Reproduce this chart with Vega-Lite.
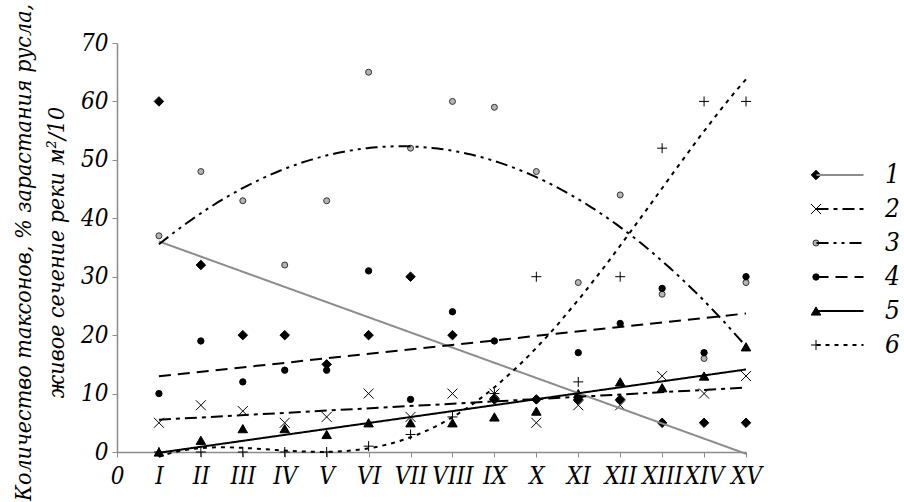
{
  "$schema": "https://vega.github.io/schema/vega-lite/v6.json",
  "width": 629,
  "height": 409,
  "autosize": {"type": "none"},
  "padding": {"left": 117, "top": 43, "right": 158, "bottom": 50},
  "background": "white",
  "config": {
    "view": {"stroke": null},
    "font": "DejaVu Serif Condensed",
    "axis": {
      "grid": false,
      "domainColor": "#8c8c8c",
      "domainWidth": 1.5,
      "tickColor": "#8c8c8c",
      "tickSize": 5,
      "tickWidth": 1,
      "labelFont": "DejaVu Serif Condensed",
      "labelFontStyle": "italic",
      "labelFontSize": 24,
      "labelColor": "black",
      "labelPadding": 4,
      "labelOverlap": false,
      "labelFlush": false,
      "labelBound": false
    }
  },
  "data": {
    "values": [
      {"period": 1, "series": "1", "value": 60}, {"period": 2, "series": "1", "value": 32}, {"period": 3, "series": "1", "value": 20}, {"period": 4, "series": "1", "value": 20}, {"period": 5, "series": "1", "value": 15}, {"period": 6, "series": "1", "value": 20}, {"period": 7, "series": "1", "value": 30}, {"period": 8, "series": "1", "value": 20}, {"period": 9, "series": "1", "value": 9}, {"period": 10, "series": "1", "value": 9}, {"period": 11, "series": "1", "value": 9}, {"period": 12, "series": "1", "value": 9}, {"period": 13, "series": "1", "value": 5}, {"period": 14, "series": "1", "value": 5}, {"period": 15, "series": "1", "value": 5},
      {"period": 1, "series": "2", "value": 5}, {"period": 2, "series": "2", "value": 8}, {"period": 3, "series": "2", "value": 7}, {"period": 4, "series": "2", "value": 5}, {"period": 5, "series": "2", "value": 6}, {"period": 6, "series": "2", "value": 10}, {"period": 7, "series": "2", "value": 6}, {"period": 8, "series": "2", "value": 10}, {"period": 9, "series": "2", "value": 10}, {"period": 10, "series": "2", "value": 5}, {"period": 11, "series": "2", "value": 8}, {"period": 12, "series": "2", "value": 8}, {"period": 13, "series": "2", "value": 13}, {"period": 14, "series": "2", "value": 10}, {"period": 15, "series": "2", "value": 13},
      {"period": 1, "series": "3", "value": 37}, {"period": 2, "series": "3", "value": 48}, {"period": 3, "series": "3", "value": 43}, {"period": 4, "series": "3", "value": 32}, {"period": 5, "series": "3", "value": 43}, {"period": 6, "series": "3", "value": 65}, {"period": 7, "series": "3", "value": 52}, {"period": 8, "series": "3", "value": 60}, {"period": 9, "series": "3", "value": 59}, {"period": 10, "series": "3", "value": 48}, {"period": 11, "series": "3", "value": 29}, {"period": 12, "series": "3", "value": 44}, {"period": 13, "series": "3", "value": 27}, {"period": 14, "series": "3", "value": 16}, {"period": 15, "series": "3", "value": 29},
      {"period": 1, "series": "4", "value": 10}, {"period": 2, "series": "4", "value": 19}, {"period": 3, "series": "4", "value": 12}, {"period": 4, "series": "4", "value": 14}, {"period": 5, "series": "4", "value": 14}, {"period": 6, "series": "4", "value": 31}, {"period": 7, "series": "4", "value": 9}, {"period": 8, "series": "4", "value": 24}, {"period": 9, "series": "4", "value": 19}, {"period": 10, "series": "4", "value": 9}, {"period": 11, "series": "4", "value": 17}, {"period": 12, "series": "4", "value": 22}, {"period": 13, "series": "4", "value": 28}, {"period": 14, "series": "4", "value": 17}, {"period": 15, "series": "4", "value": 30},
      {"period": 1, "series": "5", "value": 0}, {"period": 2, "series": "5", "value": 2}, {"period": 3, "series": "5", "value": 4}, {"period": 4, "series": "5", "value": 4}, {"period": 5, "series": "5", "value": 3}, {"period": 6, "series": "5", "value": 5}, {"period": 7, "series": "5", "value": 5}, {"period": 8, "series": "5", "value": 5}, {"period": 9, "series": "5", "value": 6}, {"period": 10, "series": "5", "value": 7}, {"period": 11, "series": "5", "value": 10}, {"period": 12, "series": "5", "value": 12}, {"period": 13, "series": "5", "value": 11}, {"period": 14, "series": "5", "value": 13}, {"period": 15, "series": "5", "value": 18},
      {"period": 1, "series": "6", "value": 0}, {"period": 2, "series": "6", "value": 0}, {"period": 3, "series": "6", "value": 0}, {"period": 4, "series": "6", "value": 0}, {"period": 5, "series": "6", "value": 0}, {"period": 6, "series": "6", "value": 1}, {"period": 7, "series": "6", "value": 3}, {"period": 8, "series": "6", "value": 6}, {"period": 9, "series": "6", "value": 10}, {"period": 10, "series": "6", "value": 30}, {"period": 11, "series": "6", "value": 12}, {"period": 12, "series": "6", "value": 30}, {"period": 13, "series": "6", "value": 52}, {"period": 14, "series": "6", "value": 60}, {"period": 15, "series": "6", "value": 60}
    ]
  },
  "encoding": {
    "x": {
      "field": "period",
      "type": "quantitative",
      "scale": {"domain": [0, 15], "nice": false, "zero": false},
      "axis": {
        "title": null,
        "labelPadding": 7,
        "values": [0, 1, 2, 3, 4, 5, 6, 7, 8, 9, 10, 11, 12, 13, 14, 15],
        "labelExpr": "['0','I','II','III','IV','V','VI','VII','VIII','IX','X','XI','XII','XIII','XIV','XV'][datum.value]"
      }
    },
    "y": {
      "field": "value",
      "type": "quantitative",
      "scale": {"domain": [0, 70], "nice": false},
      "axis": {
        "values": [0, 10, 20, 30, 40, 50, 60, 70],
        "title": ["Количество таксонов, % зарастания русла,", "живое сечение реки м²/10"],
        "titleFont": "DejaVu Serif Condensed",
        "titleFontStyle": "italic",
        "titleFontWeight": "normal",
        "titleFontSize": 23,
        "titleColor": "black",
        "titleAngle": -90,
        "titleAlign": "center",
        "titleBaseline": "alphabetic",
        "titleLineHeight": 33,
        "titleX": -87,
        "titleY": 209
      }
    }
  },
  "layer": [
    {
      "mark": {"type": "point", "opacity": 1, "strokeWidth": 1},
      "encoding": {
        "shape": {
          "field": "series", "type": "nominal",
          "scale": {"domain": ["1", "2", "3", "4", "5", "6"], "range": ["diamond", "M-1,-1L1,1M1,-1L-1,1", "circle", "circle", "triangle-up", "M-1,0L1,0M0,-1L0,1"]},
          "legend": {"title": null, "orient": "none", "legendX": 686, "legendY": 119, "labelOpacity": 0, "labelFont": "DejaVu Serif Condensed", "labelFontStyle": "italic", "labelFontSize": 26, "rowPadding": 8, "padding": 0, "symbolStrokeWidth": 1, "symbolOpacity": 1}
        },
        "fill": {
          "field": "series", "type": "nominal",
          "scale": {"domain": ["1", "2", "3", "4", "5", "6"], "range": ["black", "transparent", "#b4b4b4", "black", "black", "transparent"]},
          "legend": {"title": null, "orient": "none", "legendX": 686, "legendY": 119, "labelOpacity": 0, "labelFont": "DejaVu Serif Condensed", "labelFontStyle": "italic", "labelFontSize": 26, "rowPadding": 8, "padding": 0, "symbolStrokeWidth": 1, "symbolOpacity": 1}
        },
        "stroke": {
          "field": "series", "type": "nominal",
          "scale": {"domain": ["1", "2", "3", "4", "5", "6"], "range": ["black", "black", "#333333", "black", "black", "black"]},
          "legend": {"title": null, "orient": "none", "legendX": 686, "legendY": 119, "labelOpacity": 0, "labelFont": "DejaVu Serif Condensed", "labelFontStyle": "italic", "labelFontSize": 26, "rowPadding": 8, "padding": 0, "symbolStrokeWidth": 1, "symbolOpacity": 1}
        },
        "size": {
          "field": "series", "type": "ordinal",
          "scale": {"type": "ordinal", "domain": ["1", "2", "3", "4", "5", "6"], "range": [90, 100, 36, 40, 90, 100]},
          "legend": {"title": null, "orient": "none", "legendX": 686, "legendY": 119, "labelOpacity": 0, "labelFont": "DejaVu Serif Condensed", "labelFontStyle": "italic", "labelFontSize": 26, "rowPadding": 8, "padding": 0, "symbolStrokeWidth": 1, "symbolOpacity": 1}
        }
      }
    },
    {
      "transform": [
        {"filter": {"field": "series", "oneOf": ["1", "2", "4", "5"]}},
        {"regression": "value", "on": "period", "groupby": ["series"], "method": "linear", "extent": [1, 15]}
      ],
      "mark": {"type": "line", "strokeWidth": 2},
      "encoding": {
        "color": {"field": "series", "type": "nominal", "scale": {"range": ["#8c8c8c", "black", "black", "black", "black", "black"]},
          "legend": {"title": null, "orient": "none", "legendX": 710, "legendY": 119, "symbolType": "M-2.35,0H2.35", "symbolSize": 400, "symbolStrokeWidth": 2, "labelFont": "DejaVu Serif Condensed", "labelFontStyle": "italic", "labelFontSize": 26, "labelColor": "black", "labelOffset": 32, "rowPadding": 8, "padding": 0}},
        "strokeDash": {"field": "series", "type": "nominal", "scale": {"range": [[1, 0], [12, 5, 4, 5], [12, 5, 3, 5, 3, 5], [12, 7], [1, 0], [4, 5]]},
          "legend": {"title": null, "orient": "none", "legendX": 710, "legendY": 119, "symbolType": "M-2.35,0H2.35", "symbolSize": 400, "symbolStrokeWidth": 2, "labelFont": "DejaVu Serif Condensed", "labelFontStyle": "italic", "labelFontSize": 26, "labelColor": "black", "labelOffset": 32, "rowPadding": 8, "padding": 0}}
      }
    },
    {
      "transform": [
        {"filter": {"field": "series", "equal": "3"}},
        {"regression": "value", "on": "period", "groupby": ["series"], "method": "poly", "order": 2, "extent": [1, 15]}
      ],
      "mark": {"type": "line", "strokeWidth": 2},
      "encoding": {
        "color": {"field": "series", "type": "nominal"},
        "strokeDash": {"field": "series", "type": "nominal"}
      }
    },
    {
      "transform": [
        {"filter": {"field": "series", "equal": "6"}},
        {"regression": "value", "on": "period", "groupby": ["series"], "method": "poly", "order": 4, "extent": [1, 15]}
      ],
      "mark": {"type": "line", "strokeWidth": 2},
      "encoding": {
        "color": {"field": "series", "type": "nominal"},
        "strokeDash": {"field": "series", "type": "nominal"}
      }
    }
  ]
}
